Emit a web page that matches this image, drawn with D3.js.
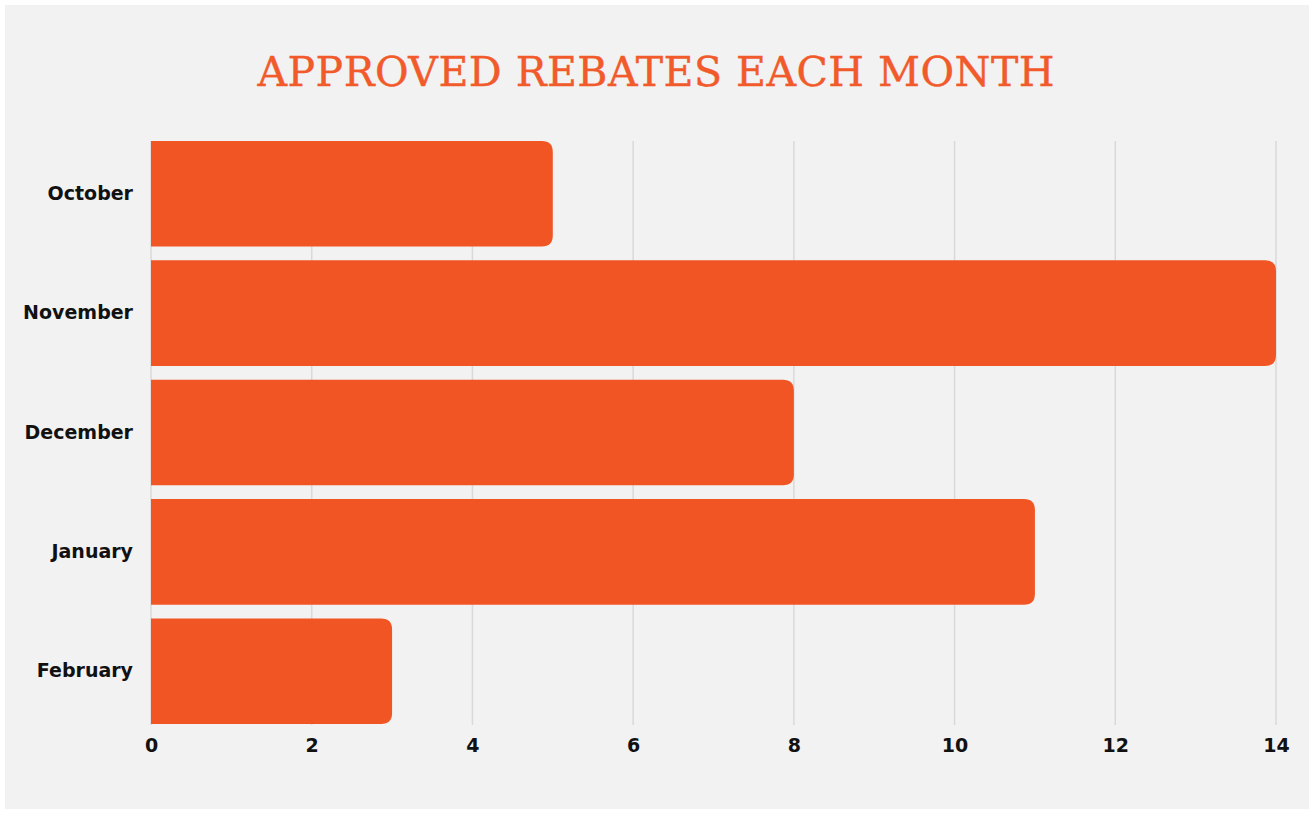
<!DOCTYPE html>
<html>
<head>
<meta charset="utf-8">
<script src="https://cdn.jsdelivr.net/npm/d3@7"></script>
<style>
  body { margin: 0; background: #ffffff; }
  svg { display: block; }
</style>
</head>
<body>
<div class="content"></div>
<script>
var months = ['October', 'November', 'December', 'January', 'February'];
var rebates = [5, 14, 8, 11, 3];
var xTicks = [0, 2, 4, 6, 8, 10, 12, 14];
var title = 'APPROVED REBATES EACH MONTH';

var chart = {
    width: 1314,
    height: 814,
    margin: { top: 141, right: 38, bottom: 90, left: 151 },
    barColor: '#f15523',
    titleColor: '#f15a2b',
    gridColor: '#d9d9d9',
    radius: 11
};

chart.svg = d3.select('.content').append('svg')
    .attr('width', chart.width)
    .attr('height', chart.height);

// paper background
chart.svg.append('rect')
    .attr('x', 5).attr('y', 5)
    .attr('width', chart.width - 10).attr('height', chart.height - 10)
    .attr('fill', '#f2f2f2');

chart.svg.append('text')
    .attr('x', 656)
    .attr('y', 86)
    .attr('text-anchor', 'middle')
    .attr('textLength', 797)
    .attr('lengthAdjust', 'spacing')
    .style('font-family', '"DejaVu Serif", serif')
    .style('font-size', '41px')
    .style('fill', chart.titleColor)
    .style('stroke', chart.titleColor)
    .style('stroke-width', 0.4)
    .text(title);

var innerW = chart.width - chart.margin.left - chart.margin.right;
var innerH = chart.height - chart.margin.top - chart.margin.bottom;

chart.g = chart.svg.append('g')
    .attr('transform', 'translate(' + chart.margin.left + ',' + chart.margin.top + ')');

chart.xScale = d3.scaleLinear().domain([0, 14]).range([0, innerW]);
chart.yScale = d3.scaleBand().domain(months).range([0, innerH]).paddingInner(0.115).paddingOuter(0);

// vertical grid lines
chart.g.selectAll('.grid')
    .data(xTicks)
    .enter().append('line')
    .attr('class', 'grid')
    .attr('x1', function(d) { return chart.xScale(d); })
    .attr('x2', function(d) { return chart.xScale(d); })
    .attr('y1', 0)
    .attr('y2', innerH + 1)
    .style('stroke', chart.gridColor)
    .style('stroke-width', 1.5);

// bars, rounded on the right end only
chart.barPath = function(d, i) {
    var x0 = chart.xScale(0), x1 = chart.xScale(d);
    var y0 = chart.yScale(months[i]), h = chart.yScale.bandwidth();
    var r = chart.radius;
    return 'M' + x0 + ',' + y0 +
        'H' + (x1 - r) +
        'Q' + x1 + ',' + y0 + ' ' + x1 + ',' + (y0 + r) +
        'V' + (y0 + h - r) +
        'Q' + x1 + ',' + (y0 + h) + ' ' + (x1 - r) + ',' + (y0 + h) +
        'H' + x0 + 'Z';
};

chart.g.selectAll('.bar')
    .data(rebates)
    .enter().append('path')
    .attr('class', 'bar')
    .attr('d', chart.barPath)
    .style('fill', chart.barColor);

// axes
var xAxis = chart.g.append('g')
    .attr('transform', 'translate(0,' + innerH + ')')
    .call(d3.axisBottom(chart.xScale).tickValues(xTicks).tickSize(0).tickPadding(15));
xAxis.select('.domain').remove();
xAxis.selectAll('text')
    .style('font-family', '"DejaVu Sans", sans-serif')
    .style('font-weight', 'bold')
    .style('font-size', '19px')
    .style('fill', '#111');

var yAxis = chart.g.append('g')
    .call(d3.axisLeft(chart.yScale).tickSize(0).tickPadding(18));
yAxis.select('.domain').remove();
yAxis.selectAll('text')
    .style('font-family', '"DejaVu Sans", sans-serif')
    .style('font-weight', 'bold')
    .style('font-size', '19px')
    .style('fill', '#111');
</script>
</body>
</html>
